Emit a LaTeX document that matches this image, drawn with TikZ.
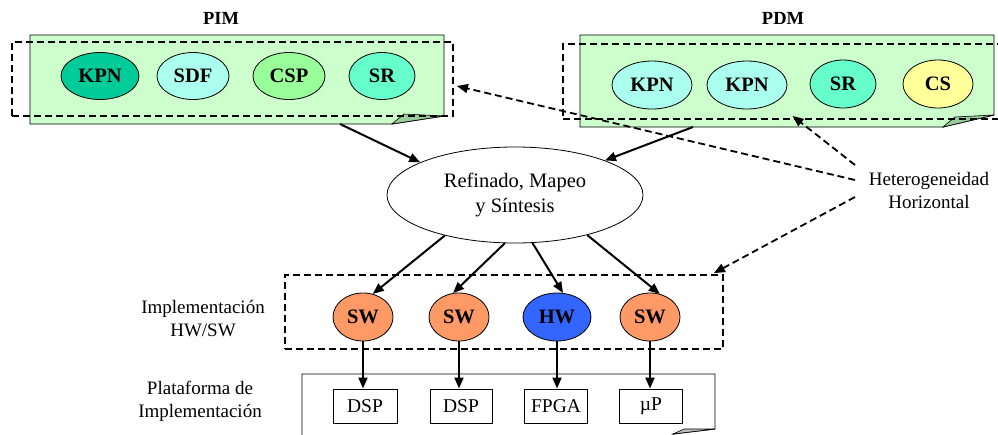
\documentclass[tikz,border=0pt]{standalone}
\usepackage{fontspec}
\setmainfont{Liberation Serif}
\usetikzlibrary{shapes.geometric,arrows.meta,calc}

\definecolor{notegreen}{HTML}{CCFFCC}
\definecolor{foldgreen}{HTML}{99CC99}
\definecolor{kpndark}{HTML}{00CC99}
\definecolor{aqua}{HTML}{AAFFEE}
\definecolor{lightgreen}{HTML}{99FF99}
\definecolor{srgreen}{HTML}{66FFCC}
\definecolor{csyellow}{HTML}{FFFF99}
\definecolor{swors}{HTML}{FF9966}
\definecolor{hwblue}{HTML}{3366FF}

\begin{document}
\begin{tikzpicture}[x=1pt,y=-1pt,
  model/.style={ellipse,draw=black,line width=0.8pt,inner sep=0pt,
    minimum height=47pt,font=\fontsize{20.5}{22}\selectfont\bfseries},
  impl/.style={ellipse,draw=black,line width=0.8pt,inner sep=0pt,
    minimum width=60pt,minimum height=48pt,font=\fontsize{20.5}{22}\selectfont\bfseries},
  unitbox/.style={rectangle,draw=black,line width=0.9pt,minimum height=34pt,
    inner sep=0pt,font=\fontsize{19.5}{22}\selectfont},
  flow/.style={line width=2pt,-{Triangle[length=11pt,width=9pt]}},
  hint/.style={line width=1.8pt,dash pattern=on 7pt off 4pt,-{Triangle[length=11pt,width=9pt]}},
  region/.style={draw,line width=1.8pt,dash pattern=on 7pt off 4pt,inner sep=0pt},
  notebody/.style={draw=black,line width=0.9pt},
  caption/.style={font=\fontsize{19}{23}\selectfont,align=center},
  title/.style={font=\fontsize{18.5}{22}\selectfont\bfseries}
]
\useasboundingbox (0,0) rectangle (998,434);

% ---- model notes (folded-corner sheets) ----
\draw[notebody,fill=notegreen] (30,35) -- (444,35) -- (444,116) -- (392,124) -- (30,124) -- cycle;
\draw[notebody,fill=foldgreen,line width=0.6pt] (392,124) -- (404,114) -- (444,116) -- cycle;
\draw[notebody,fill=notegreen] (580,35) -- (994,35) -- (994,115) -- (943,127) -- (580,127) -- cycle;
\draw[notebody,fill=foldgreen,line width=0.6pt] (943,127) -- (955,117) -- (994,115) -- cycle;

% ---- platform sheet ----
\draw[notebody,fill=white] (302,440) -- (302,374) -- (715,374) -- (715,429) -- (673,434) -- (673,440);
\draw[notebody,fill=black!25,line width=0.6pt] (673,434) -- (684,429) -- (715,429) -- cycle;

% ---- titles ----
\node[title] (pimt) at (221,18) {PIM};
\node[title] (pdmt) at (783,18) {PDM};

% ---- dashed groupings ----
\node[region,minimum width=441pt,minimum height=74pt] (pimbox) at (232.5,79) {};
\node[region,minimum width=447pt,minimum height=75pt] (pdmbox) at (786.5,81.5) {};
\node[region,minimum width=438pt,minimum height=74pt] (implbox) at (504,312) {};

% ---- PIM models ----
\node[model,fill=kpndark,minimum width=78pt] (a1) at (100,76) {KPN};
\node[model,fill=aqua,minimum width=72pt] (a2) at (193,76) {SDF};
\node[model,fill=lightgreen,minimum width=72pt] (a3) at (289,76) {CSP};
\node[model,fill=srgreen,minimum width=66pt] (a4) at (382,76) {SR};

% ---- PDM models ----
\node[model,fill=aqua,minimum width=80pt,minimum height=48pt] (b1) at (652,85) {KPN};
\node[model,fill=aqua,minimum width=80pt,minimum height=48pt] (b2) at (747,85) {KPN};
\node[model,fill=srgreen,minimum width=66pt,minimum height=48pt] (b3) at (843,84) {SR};
\node[model,fill=csyellow,minimum width=70pt,minimum height=48pt] (b4) at (938,84) {CS};

% ---- refinement step ----
\node[ellipse,draw=black,line width=0.8pt,minimum width=256pt,minimum height=96pt,
  inner sep=0pt,align=center,font=\fontsize{20.5}{25}\selectfont] (ref) at (515,195)
  {Refinado, Mapeo\\y Síntesis};

% ---- implementation nodes ----
\node[impl,fill=swors] (s1) at (363,317) {SW};
\node[impl,fill=swors] (s2) at (459,317) {SW};
\node[impl,fill=hwblue,minimum width=68pt] (hw) at (557,317) {HW};
\node[impl,fill=swors] (s3) at (650,317) {SW};

% ---- platform units ----
\node[unitbox,minimum width=64pt] (u1) at (365,406) {DSP};
\node[unitbox,minimum width=62pt] (u2) at (461,406) {DSP};
\node[unitbox,minimum width=63pt] (u3) at (556,406) {FPGA};
\node[unitbox,minimum width=63pt] (u4) at (651,406) {µP};

% ---- side captions ----
\node[caption] (implcap) at (203,319) {Implementación\\HW/SW};
\node[caption] (platcap) at (200,401) {Plataforma de\\Implementación};
\node[caption] (het) at (929,190) {Heterogeneidad\\Horizontal};

% ---- refinement flow ----
\coordinate (pimout) at (340,124);
\coordinate (pdmout) at (693,127);
\draw[flow] (pimout) -- (ref.161);
\draw[flow] (pdmout) -- (ref.21);

\draw[flow] (ref.210) -- (s1.67);
\draw[flow] (ref.258) -- (s2.104);
\draw[flow] (ref.290) -- (hw.76);
\draw[flow] (ref.331) -- (s3.67);

\draw[flow] (s1.south) -- (s1.south |- u1.north);
\draw[flow] (s2.south) -- (s2.south |- u2.north);
\draw[flow] (hw.south) -- (hw.south |- u3.north);
\draw[flow] (s3.south) -- (s3.south |- u4.north);

% ---- horizontal heterogeneity pointers ----
\coordinate (h1) at (855,165);
\coordinate (h2) at (855,180);
\coordinate (h3) at (855,197);
\draw[hint] (h1) -- ([xshift=6pt,yshift=4pt]pdmbox.south);
\draw[hint] (h2) -- ([xshift=3pt,yshift=-7pt]pimbox.east);
\draw[hint] (h3) -- ([xshift=-10pt,yshift=1pt]implbox.north east);
\end{tikzpicture}
\end{document}
